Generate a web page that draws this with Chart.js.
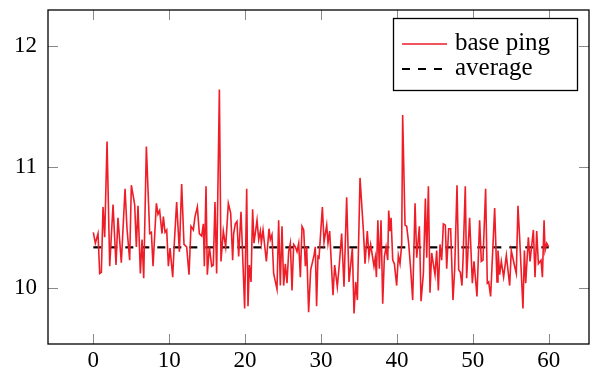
<!DOCTYPE html>
<html>
<head>
<meta charset="utf-8">
<script src="https://cdn.jsdelivr.net/npm/chart.js@4"></script>
<style>
  html, body { margin: 0; padding: 0; background: #fff; }
  canvas { display: block; }
</style>
</head>
<body>
<canvas id="pingChart" width="590" height="374"></canvas>
<script>
// time (x) and ping (y) of the base ping series
const times = [
  0, 0.27, 0.62, 0.84, 1.06, 1.28, 1.50, 1.81, 2.16, 2.60, 2.99, 3.25, 3.69, 4.18, 4.44, 4.79,
  5.01, 5.45, 5.67, 5.89, 6.20, 6.42, 6.64, 6.99, 7.43, 7.65, 7.87, 8.31, 8.52, 8.74, 9.05,
  9.23, 9.45, 9.67, 9.89, 10.11, 10.46, 10.68, 10.98, 11.34, 11.64, 11.95, 12.30, 12.61, 12.87,
  13.18, 13.40, 13.71, 13.97, 14.28, 14.50, 14.63, 14.85, 15.02, 15.29, 15.60, 15.81, 16.03,
  16.25, 16.61, 16.82, 17.13, 17.44, 17.79, 18.10, 18.36,
  18.49, 18.71, 18.93, 19.15, 19.46, 19.94, 20.21, 20.38, 20.56, 20.78, 20.99, 21.17, 21.57,
  21.79, 22.01, 22.14, 22.36, 22.80, 23.15, 23.32, 23.54, 23.76, 24.20, 24.42, 24.64, 24.86,
  25.08, 25.30, 25.52, 25.74, 25.96, 26.18, 26.40, 26.62, 26.84, 27.06, 27.28, 27.50, 27.72, 27.94,
  28.11, 28.37, 28.64, 29.08, 29.25, 29.42, 29.60, 29.74, 30.18, 30.40, 30.75, 30.92, 31.14,
  31.58, 31.80, 32.15, 32.42, 32.72, 33.03, 33.38, 33.69, 34.13, 34.35, 34.57, 34.79, 35.14,
  35.58, 35.80, 36.10, 36.32, 36.54, 36.98, 37.15, 37.30, 37.49,
  37.69, 37.91, 38.13, 38.35, 38.57, 38.79, 38.92, 39.09, 39.23, 39.45, 39.67, 39.97, 40.19,
  40.41, 40.63, 40.76, 41.07, 41.29, 41.55, 41.82, 42.08, 42.39, 42.61, 42.96, 43.18, 43.49,
  43.75, 43.93, 44.15, 44.36, 44.58, 44.80, 45.02, 45.24, 45.46, 45.68, 45.90, 46.12, 46.38,
  46.56, 46.82,
  47.08, 47.39, 47.61, 47.92, 48.14, 48.36, 48.57, 48.71, 49.01, 49.19, 49.58, 49.72, 49.94,
  50.16, 50.55, 50.90, 51.12, 51.34, 51.69, 51.91, 52.09, 52.35, 52.88, 53.19, 53.32, 53.54,
  53.76, 54.06, 54.42, 54.86, 55.07, 55.51, 55.73, 55.95, 56.17, 56.61,
  56.80, 56.97, 57.32, 57.54, 57.98, 58.20, 58.42, 58.64, 58.99, 59.17, 59.39, 59.52, 59.74, 60.00
];
const pings = [
  10.46, 10.37, 10.45, 10.12, 10.13, 10.67, 10.42, 11.21, 10.18, 10.69, 10.19, 10.58, 10.21, 10.82, 10.49, 10.23,
  10.85, 10.69, 10.34, 10.68, 10.12, 10.40, 10.08, 11.17, 10.45, 10.46, 10.18, 10.70, 10.61, 10.64, 10.45,
  10.59, 10.46, 10.48, 10.18, 10.33, 10.09, 10.38, 10.71, 10.30, 10.86, 10.36, 10.34, 10.11, 10.51,
  10.48, 10.59, 10.67, 10.45, 10.43, 10.53, 10.18, 10.84, 10.11, 10.34, 10.18, 10.19, 10.71,
  10.12, 11.64, 10.22, 10.47, 10.34, 10.70, 10.62, 10.23,
  10.45, 10.53, 10.55, 10.26, 10.63, 9.83, 10.82, 9.85, 10.19, 10.05, 10.65, 10.37, 10.56,
  10.40, 10.47, 10.37, 10.48, 10.22, 10.49, 10.40, 10.44, 10.12, 9.99, 10.56, 10.02, 10.51,
  10.02, 10.20, 10.04, 10.30, 10.37, 9.98, 10.36, 10.34, 10.30, 10.37, 10.09, 10.51, 10.48, 10.18,
  10.34, 9.80, 10.15, 10.27, 10.34, 9.85, 10.26, 10.25, 10.67, 10.38, 10.52, 10.37, 10.47,
  9.94, 10.19, 10.01, 10.20, 10.45, 10.01, 10.75, 10.05, 10.33, 9.79, 10.05, 9.90, 10.91,
  10.48, 10.20, 10.47, 10.26, 10.36, 10.18, 10.25, 10.09, 10.56,
  10.16, 10.56, 9.87, 10.26, 10.34, 10.23, 10.64, 10.47, 10.58, 10.23, 10.20, 10.02, 10.27,
  10.20, 10.36, 11.43, 10.52, 10.51, 10.37, 10.15, 9.90, 10.70, 10.25, 10.51, 9.89, 10.12,
  10.74, 10.25, 10.84, 9.96, 10.29, 10.20, 10.11, 10.31, 9.98, 10.36, 10.23, 10.53, 10.52,
  10.16, 10.49,
  10.49, 9.90, 10.15, 10.85, 10.15, 10.13, 10.02, 10.23, 10.84, 10.08, 10.58, 10.37, 10.04,
  10.22, 9.93, 10.56, 10.22, 10.23, 10.82, 10.04, 10.05, 9.93, 10.66, 10.05, 10.31, 10.11,
  10.22, 10.09, 10.27, 10.02, 10.31, 10.18, 10.12, 10.68, 10.42, 9.83,
  10.31, 10.04, 10.42, 10.22, 10.48, 10.09, 10.47, 10.20, 10.23, 10.09, 10.56, 10.31, 10.37, 10.34
];
const avgPing = 10.336;
const avgSpan = [0, 60];

const xTicks = [0, 10, 20, 30, 40, 50, 60];
const yTicks = [10, 11, 12];

const RED = "#ee1d27";
const FONT = "'Liberation Serif', 'Times New Roman', serif";

Chart.defaults.font.family = FONT;
Chart.defaults.color = "#000";

// 枠線と内向きの目盛り（pgfplots 風）
const framePlugin = {
  id: "frame",
  afterDatasetsDraw(chart) {
    const { ctx, chartArea: ca, scales } = chart;
    ctx.save();
    ctx.strokeStyle = "#8a8a8a";
    ctx.lineWidth = 1;
    const tl = 10;
    xTicks.forEach(v => {
      const px = Math.round(scales.x.getPixelForValue(v)) + 0.5;
      ctx.beginPath();
      ctx.moveTo(px, ca.bottom); ctx.lineTo(px, ca.bottom - tl);
      ctx.moveTo(px, ca.top); ctx.lineTo(px, ca.top + tl);
      ctx.stroke();
    });
    yTicks.forEach(v => {
      const py = Math.round(scales.y.getPixelForValue(v)) + 0.5;
      ctx.beginPath();
      ctx.moveTo(ca.left, py); ctx.lineTo(ca.left + tl, py);
      ctx.moveTo(ca.right, py); ctx.lineTo(ca.right - tl, py);
      ctx.stroke();
    });
    ctx.strokeStyle = "#000";
    ctx.lineWidth = 1.3;
    ctx.strokeRect(ca.left, ca.top, ca.right - ca.left, ca.bottom - ca.top);
    ctx.restore();
  }
};

// 凡例（枠付き、右上）
const legendBoxPlugin = {
  id: "legendBox",
  afterDraw(chart) {
    const { ctx, chartArea: ca } = chart;
    const w = 184, h = 72;
    const x = ca.right - 12 - w, y = ca.top + 8;
    ctx.save();
    ctx.fillStyle = "#fff";
    ctx.fillRect(x, y, w, h);
    ctx.strokeStyle = "#000";
    ctx.lineWidth = 1.3;
    ctx.strokeRect(x + 0.5, y + 0.5, w, h);
    chart.data.datasets.forEach((ds, i) => {
      const rowY = y + 26 + i * 25;
      ctx.beginPath();
      ctx.strokeStyle = ds.borderColor;
      ctx.lineWidth = ds.borderWidth;
      ctx.setLineDash(ds.borderDash || []);
      ctx.moveTo(x + 9, rowY);
      ctx.lineTo(x + 54, rowY);
      ctx.stroke();
      ctx.setLineDash([]);
      ctx.fillStyle = "#000";
      ctx.font = "25px " + FONT;
      ctx.textBaseline = "alphabetic";
      ctx.fillText(ds.label, x + 62, rowY + 6);
    });
    ctx.restore();
  }
};

const ctx = document.getElementById("pingChart").getContext("2d");
new Chart(ctx, {
  type: "line",
  data: {
    datasets: [
      {
        label: "base ping",
        data: times.map((t, i) => ({ x: t, y: pings[i] })),
        borderColor: RED,
        borderWidth: 1.6,
        pointRadius: 0,
        tension: 0
      },
      {
        label: "average",
        data: avgSpan.map(t => ({ x: t, y: avgPing })),
        borderColor: "#000",
        borderWidth: 2.2,
        borderDash: [8, 8],
        pointRadius: 0
      }
    ]
  },
  options: {
    responsive: false,
    animation: false,
    layout: { padding: { top: 10, right: 1, left: 0, bottom: 0 } },
    plugins: {
      legend: { display: false },
      tooltip: { enabled: false }
    },
    scales: {
      x: {
        type: "linear",
        min: -5.97,
        max: 65.31,
        grid: { display: false, drawTicks: false, tickLength: 0 },
        border: { display: false },
        ticks: { padding: 3, font: { size: 23 }, color: "#000" },
        afterBuildTicks: s => { s.ticks = xTicks.map(v => ({ value: v })); },
        afterFit: s => { s.height = 30; s.paddingLeft = 0; s.paddingRight = 0; }
      },
      y: {
        min: 9.537,
        max: 12.298,
        grid: { display: false, drawTicks: false, tickLength: 0 },
        border: { display: false },
        ticks: { padding: 11, font: { size: 23 }, color: "#000" },
        afterBuildTicks: s => { s.ticks = yTicks.map(v => ({ value: v })); },
        afterFit: s => { s.width = 48; s.paddingTop = 0; s.paddingBottom = 0; }
      }
    }
  },
  plugins: [framePlugin, legendBoxPlugin]
});
</script>
</body>
</html>
